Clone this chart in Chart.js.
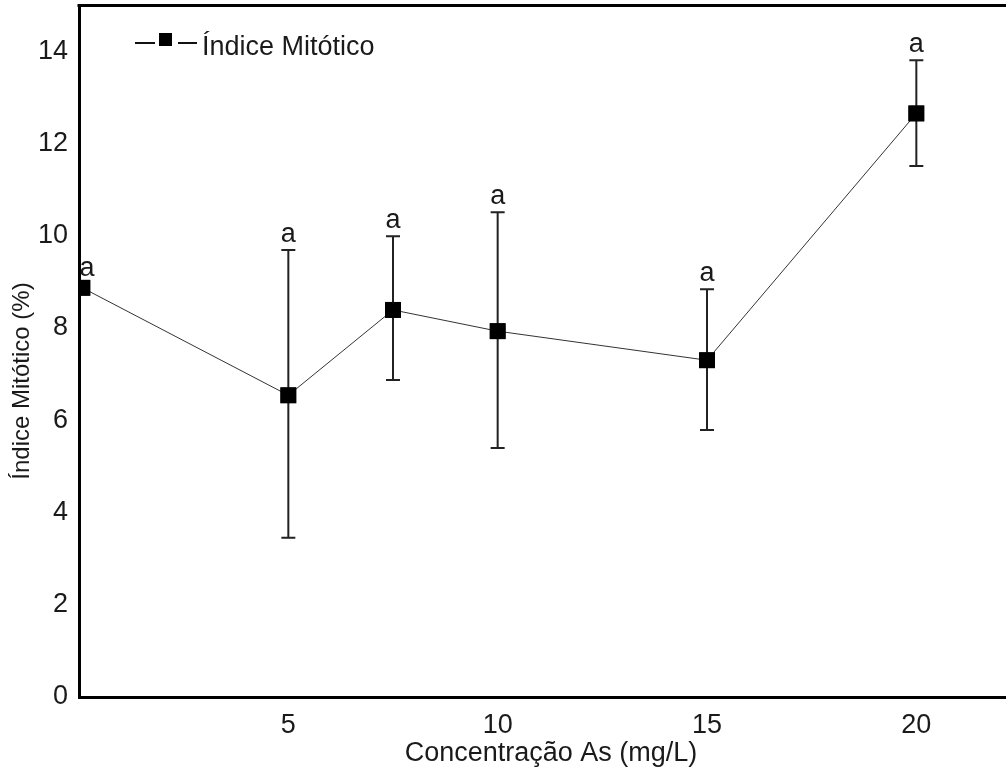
<!DOCTYPE html>
<html>
<head>
<meta charset="utf-8">
<script src="https://cdn.jsdelivr.net/npm/chart.js@4.4.0/dist/chart.umd.min.js"></script>
<style>
  html, body { margin: 0; padding: 0; background: #ffffff; overflow: hidden; }
  #wrap { width: 1006px; height: 769px; overflow: hidden; }
  canvas { display: block; }
</style>
</head>
<body>
<div id="wrap"><canvas id="c" width="1030" height="769"></canvas></div>
<script>
// ---- data ----
const concentrations = [0.08, 5, 7.5, 10, 15, 20];
const mitoticIndex   = [8.87, 6.54, 8.39, 7.93, 7.30, 12.65];
const errorUpper     = [8.87, 9.69, 9.99, 10.51, 8.84, 13.80];
const errorLower     = [8.87, 3.45, 6.87, 5.40, 5.79, 11.51];
const sigLabels      = ['a', 'a', 'a', 'a', 'a', 'a'];
const xTickValues    = [5, 10, 15, 20];
const yTickValues    = [0, 2, 4, 6, 8, 10, 12, 14];
const seriesName     = 'Índice Mitótico';
const xTitle         = 'Concentração As (mg/L)';
const yTitle         = 'Índice Mitótico (%)';

const FONT = '"Liberation Sans", Arial, sans-serif';
const INK = '#1a1a1a';

const extras = {
  id: 'extras',
  afterDatasetsDraw(chart) {
    const ctx = chart.ctx;
    const xs = chart.scales.x, ys = chart.scales.y;
    ctx.save();
    // error bars
    ctx.strokeStyle = '#222';
    ctx.lineWidth = 2;
    for (let i = 0; i < concentrations.length; i++) {
      const px = xs.getPixelForValue(concentrations[i]);
      const pu = ys.getPixelForValue(errorUpper[i]);
      const pl = ys.getPixelForValue(errorLower[i]);
      if (Math.abs(pl - pu) < 1) continue;
      ctx.beginPath();
      ctx.moveTo(px, pu); ctx.lineTo(px, pl);
      ctx.moveTo(px - 7, pu); ctx.lineTo(px + 7, pu);
      ctx.moveTo(px - 7, pl); ctx.lineTo(px + 7, pl);
      ctx.stroke();
    }
    // redraw markers on top of error bars
    const meta = chart.getDatasetMeta(0);
    ctx.fillStyle = '#000';
    ctx.beginPath();
    ctx.rect(chart.chartArea.left, chart.chartArea.top, chart.chartArea.right - chart.chartArea.left, chart.chartArea.bottom - chart.chartArea.top);
    ctx.clip();
    meta.data.forEach(pt => { ctx.fillRect(pt.x - 8, pt.y - 8, 16, 16); });
    ctx.restore();

    ctx.save();
    // significance letters
    ctx.fillStyle = INK;
    ctx.font = '27px ' + FONT;
    ctx.textAlign = 'center';
    ctx.textBaseline = 'alphabetic';
    for (let i = 0; i < concentrations.length; i++) {
      const px = xs.getPixelForValue(concentrations[i]);
      const pu = ys.getPixelForValue(errorUpper[i]);
      const pv = ys.getPixelForValue(mitoticIndex[i]);
      const base = Math.min(pu - 8, pv - 12);
      const lx = Math.max(px, xs.left + 8);
      ctx.fillText(sigLabels[i], lx, base);
    }
    ctx.restore();
  },
  afterDraw(chart) {
    const ctx = chart.ctx;
    const a = chart.chartArea;
    ctx.save();
    // top frame line
    ctx.strokeStyle = '#000';
    ctx.lineWidth = 3;
    ctx.beginPath();
    ctx.moveTo(a.left - 1.5, a.top + 0.5);
    ctx.lineTo(a.right, a.top + 0.5);
    ctx.lineTo(a.right, a.bottom);
    ctx.stroke();

    // legend
    ctx.strokeStyle = '#111';
    ctx.lineWidth = 2;
    ctx.beginPath();
    ctx.moveTo(135, 43); ctx.lineTo(155, 43);
    ctx.moveTo(178, 43); ctx.lineTo(197, 43);
    ctx.stroke();
    ctx.fillStyle = '#000';
    ctx.fillRect(159, 33, 13, 13);
    ctx.fillStyle = INK;
    ctx.font = '27px ' + FONT;
    ctx.textAlign = 'left';
    ctx.textBaseline = 'alphabetic';
    ctx.fillText(seriesName, 202, 55);

    // x title
    ctx.textAlign = 'center';
    ctx.fillText(xTitle, 551, 761);

    // y title
    ctx.translate(29, 381);
    ctx.rotate(-Math.PI / 2);
    ctx.font = '24px ' + FONT;
    ctx.fillText(yTitle, 0, 0);
    ctx.restore();
  }
};

new Chart(document.getElementById('c'), {
  type: 'line',
  data: {
    datasets: [{
      label: seriesName,
      data: concentrations.map((x, i) => ({ x: x, y: mitoticIndex[i] })),
      borderColor: '#333',
      borderWidth: 1,
      pointStyle: 'rect',
      pointRadius: 11,
      pointBorderWidth: 0,
      pointBackgroundColor: '#000',
      pointBorderColor: '#000',
      tension: 0,
      clip: 0
    }]
  },
  options: {
    responsive: false,
    animation: false,
    devicePixelRatio: 1,
    layout: { autoPadding: false, padding: { top: 5, right: 9, left: 0, bottom: 0 } },
    plugins: { legend: { display: false }, tooltip: { enabled: false } },
    scales: {
      x: {
        type: 'linear',
        min: 0, max: 22.5,
        z: 1,
        afterBuildTicks: s => { s.ticks = xTickValues.map(v => ({ value: v })); },
        afterFit: s => { s.height = 72; s.paddingLeft = 0; s.paddingRight = 0; },
        grid: { display: false, drawTicks: false },
        border: { display: true, color: '#000', width: 3 },
        ticks: { color: INK, font: { family: FONT, size: 27 }, padding: 12, maxRotation: 0, autoSkip: false }
      },
      y: {
        type: 'linear',
        min: 0, max: 15,
        z: 1,
        afterBuildTicks: s => { s.ticks = yTickValues.map(v => ({ value: v })); },
        afterFit: s => { s.width = 79; s.paddingTop = 0; s.paddingBottom = 0; },
        grid: { display: false, drawTicks: false },
        border: { display: true, color: '#000', width: 3 },
        ticks: { color: INK, font: { family: FONT, size: 27 }, padding: 11, autoSkip: false }
      }
    }
  },
  plugins: [extras]
});
</script>
</body>
</html>
